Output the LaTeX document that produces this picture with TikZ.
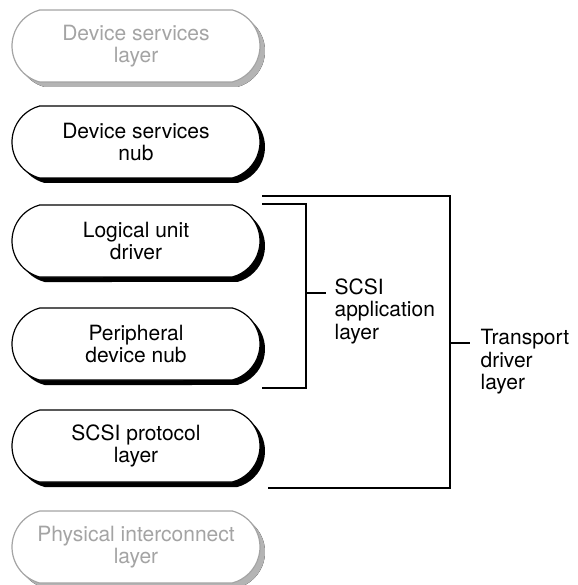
\documentclass[tikz,border=0pt]{standalone}
\usepackage{fontspec}
\setmainfont{TeX Gyre Heros}
\usetikzlibrary{shapes.misc,shadows}
\definecolor{fadedgray}{HTML}{A4A4A4}
\definecolor{fadedshadow}{HTML}{B4B4B4}
\begin{document}
\begin{tikzpicture}[x=1pt, y=-1pt, line width=1.2pt,
    every node/.style = {align=center, font=\fontsize{21}{22.5}\selectfont},
    layer/.style = {rounded rectangle, rounded rectangle arc length=150, draw, fill=white,
      minimum width=248pt, minimum height=72pt, inner sep=0pt,
      general shadow={fill=black, shadow xshift=5pt, shadow yshift=-5pt}},
    faded/.style = {layer, draw=fadedgray, text=fadedgray,
      general shadow={fill=fadedshadow, shadow xshift=5pt, shadow yshift=-5pt}},
    bracket/.style = {line width=1.2pt},
    label/.style = {align=left, anchor=west, inner sep=0pt}]

  \useasboundingbox (0,0) rectangle (577,585);

  \node [faded] (dsl) at (136,46)  {Device services\\layer};
  \node [layer] (dsn) at (136,142) {Device services\\nub};
  \node [layer] (lud) at (136,241) {Logical unit\\driver};
  \node [layer] (pdn) at (136,344) {Peripheral\\device nub};
  \node [layer] (spl) at (136,446) {SCSI protocol\\layer};
  \node [faded] (pil) at (136,547) {Physical interconnect\\layer};

  \coordinate (appTop) at (262,204);
  \coordinate (appBot) at (262,388);
  \coordinate (appTick) at (306,293);
  \coordinate (tdTop) at (262,196);
  \coordinate (tdBot) at (268,488);
  \coordinate (tdTick) at (450,343);

  \node [label] (app) at (334,311) {SCSI\\application\\layer};
  \node [label] (td) at (480,362) {Transport\\driver\\layer};

  \draw [bracket] (appTop) -| (appTick) |- (appBot);
  \draw [bracket] (appTick) -- ++(20,0);
  \draw [bracket] (tdTop) -| (tdTick) |- (tdBot);
  \draw [bracket] (tdTick) -- ++(20,0);

\end{tikzpicture}
\end{document}
